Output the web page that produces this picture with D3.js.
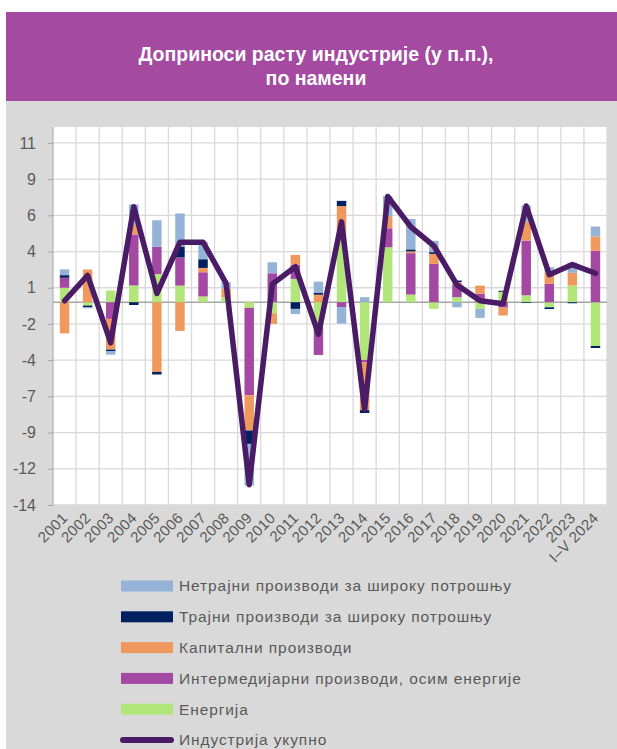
<!DOCTYPE html>
<html>
<head>
<meta charset="utf-8">
<script src="https://cdn.jsdelivr.net/npm/d3@7"></script>
<style>
body { margin: 0; background: #fff; }
svg text { font-family: "Liberation Sans", Arial, sans-serif; }
</style>
</head>
<body>
<div id="chart"></div>
<script>
// godine (kategorije)
var years = ["2001","2002","2003","2004","2005","2006","2007","2008","2009","2010","2011","2012",
             "2013","2014","2015","2016","2017","2018","2019","2020","2021","2022","2023","I–V 2024"];

// doprinosi po nameni, u p.p.
var energija       = [1.0, -0.23, 0.81, 1.16, 1.95, 1.15, 0.4, 0.35, -0.39, -0.76, 1.61, -1.68, 4.2, -3.98, 3.8, 0.53, -0.46, 0.35, -0.46, 0.72, 0.48, -0.35, 1.15, -3.02];
var intermedijarni = [0.69, 0, -1.15, 3.52, 1.87, 1.95, 1.67, 0, -6.03, 2.0, 0.99, -1.96, -0.33, -0.17, 1.31, 2.86, 2.65, 0.85, 0.58, -0.37, 3.78, 1.27, 0, 3.55];
var kapitalni      = [-2.15, 2.26, -2.12, 0.65, -4.81, -1.98, 0.3, 0.59, -2.44, -0.74, 0.67, 0.52, 2.44, -3.3, 0.83, 0.12, 0.69, 0.2, 0.57, -0.55, 1.3, 0.78, 0.88, 0.99];
var trajni         = [0.18, -0.12, -0.1, -0.19, -0.18, 0.75, 0.6, 0, -0.92, 0, -0.46, 0.14, 0.36, -0.2, 0, 0.14, 0.12, 0.1, 0, 0.07, -0.05, -0.12, -0.07, -0.14];
var netrajni       = [0.4, -0.07, -0.25, 1.42, 1.84, 2.28, 1.2, 0.44, -2.88, 0.76, -0.36, 0.76, -1.15, 0.35, 1.4, 2.1, 0.78, -0.35, -0.62, 0, 1.12, 0.37, 0.7, 0.69];
var ukupno         = [0.1, 1.85, -2.8, 6.6, 0.6, 4.15, 4.15, 1.3, -12.6, 1.25, 2.45, -2.2, 5.55, -7.4, 7.3, 5.2, 3.9, 1.2, 0.1, -0.1, 6.65, 1.9, 2.6, 2.0];

var yTicks = [-14, -11.5, -9, -6.5, -4, -1.5, 1, 3.5, 6, 8.5, 11];

var seriesNames = {
    netrajni: "Нетрајни производи за широку потрошњу",
    trajni: "Трајни производи за широку потрошњу",
    kapitalni: "Капитални производи",
    intermedijarni: "Интермедијарни производи, осим енергије",
    energija: "Енергија",
    ukupno: "Индустрија укупно"
};
var colors = {
    netrajni: "#95B3D7",
    trajni: "#002060",
    kapitalni: "#F0995F",
    intermedijarni: "#A449A3",
    energija: "#B3E67A",
    ukupno: "#4A1C66"
};

var width = 617, height = 749;
var plotL = 53, plotR = 607, plotT = 127, plotB = 505;

var rows = years.map(function(yr, i) {
    return { year: yr, energija: energija[i], intermedijarni: intermedijarni[i],
             kapitalni: kapitalni[i], trajni: trajni[i], netrajni: netrajni[i] };
});

var svg = d3.select("#chart").append("svg")
    .attr("width", width)
    .attr("height", height);

// pozadina i naslov
svg.append("rect").attr("x", 6).attr("y", 100).attr("width", width - 6).attr("height", height - 100)
    .attr("fill", "#D9D9D9");
svg.append("rect").attr("x", 6).attr("y", 12).attr("width", width - 6).attr("height", 89)
    .attr("fill", "#A44AA1");
svg.append("text").attr("x", 316).attr("y", 61).attr("text-anchor", "middle")
    .attr("fill", "#fff").style("font-size", "19.5px").style("font-weight", "bold")
    .text("Доприноси расту индустрије (у п.п.),");
svg.append("text").attr("x", 316).attr("y", 85).attr("text-anchor", "middle")
    .attr("fill", "#fff").style("font-size", "19.5px").style("font-weight", "bold")
    .text("по намени");

svg.append("rect").attr("x", plotL).attr("y", plotT).attr("width", plotR - plotL).attr("height", plotB - plotT)
    .attr("fill", "#fff");

var x = d3.scaleBand().domain(years).range([plotL, plotR]);
var y = d3.scaleLinear().domain([-14, 12.1]).range([plotB, plotT]);

// mreza
svg.append("g").selectAll("line")
    .data(yTicks)
    .enter().append("line")
    .attr("x1", plotL).attr("x2", plotR)
    .attr("y1", function(d) { return y(d); })
    .attr("y2", function(d) { return y(d); })
    .attr("stroke", "#D9D9D9").attr("stroke-width", 1.3);

svg.append("g").selectAll("line")
    .data(years.slice(1).concat(["end"]))
    .enter().append("line")
    .attr("x1", function(d) { return d == "end" ? plotR : x(d); })
    .attr("x2", function(d) { return d == "end" ? plotR : x(d); })
    .attr("y1", plotT).attr("y2", plotB)
    .attr("stroke", "#D9D9D9").attr("stroke-width", 1.3);

svg.append("line")
    .attr("x1", plotL).attr("x2", plotR)
    .attr("y1", y(0)).attr("y2", y(0))
    .attr("stroke", "#A6A6A6").attr("stroke-width", 1.3);

// stubici
var stack = d3.stack()
    .keys(["energija", "intermedijarni", "kapitalni", "trajni", "netrajni"])
    .offset(d3.stackOffsetDiverging);

var barW = x.bandwidth() * 0.41;

svg.append("g").selectAll("g")
    .data(stack(rows))
    .enter().append("g")
    .attr("fill", function(d) { return colors[d.key]; })
    .selectAll("rect")
    .data(function(d) { return d; })
    .enter().append("rect")
    .attr("x", function(d) { return x(d.data.year) + x.bandwidth() / 2 - barW / 2; })
    .attr("width", barW)
    .attr("y", function(d) { return y(d[1]); })
    .attr("height", function(d) { return y(d[0]) - y(d[1]); });

// linija ukupno
var line = d3.line()
    .x(function(d, i) { return x(years[i]) + x.bandwidth() / 2; })
    .y(function(d) { return y(d); });

svg.append("path")
    .datum(ukupno)
    .attr("d", line)
    .attr("fill", "none")
    .attr("stroke", colors.ukupno)
    .attr("stroke-width", 5.5)
    .attr("stroke-linejoin", "round")
    .attr("stroke-linecap", "round");

// y osa
var yAxis = svg.append("g")
    .attr("transform", "translate(" + plotL + ",0)")
    .call(d3.axisLeft(y).tickValues(yTicks).tickSize(5).tickPadding(12)
        .tickFormat(function(d) { return d.toFixed(0); }));
yAxis.select(".domain").attr("stroke", "#A6A6A6").attr("d", "M0," + plotT + "V" + plotB);
yAxis.selectAll(".tick line").attr("stroke", "#A6A6A6");
yAxis.selectAll(".tick text").attr("fill", "#595959").style("font-size", "16px")
    .style("font-family", "'Liberation Sans', Arial, sans-serif");

// x oznake
svg.append("g").selectAll("text")
    .data(years)
    .enter().append("text")
    .attr("transform", function(d) {
        return "translate(" + (x(d) + x.bandwidth() / 2 + 4) + "," + 519 + ") rotate(-45)";
    })
    .attr("text-anchor", "end")
    .attr("fill", "#595959")
    .style("font-size", "15px")
    .style("letter-spacing", "0.3px")
    .text(function(d) { return d; });

// legenda
var legendKeys = ["netrajni", "trajni", "kapitalni", "intermedijarni", "energija", "ukupno"];
var legend = svg.append("g").selectAll("g")
    .data(legendKeys)
    .enter().append("g")
    .attr("transform", function(d, i) { return "translate(121," + (586 + i * 30.8) + ")"; });

legend.filter(function(d) { return d != "ukupno"; })
    .append("rect")
    .attr("x", 0).attr("y", -5.5).attr("width", 52).attr("height", 11)
    .attr("fill", function(d) { return colors[d]; });

legend.filter(function(d) { return d == "ukupno"; })
    .append("line")
    .attr("x1", 2).attr("x2", 50).attr("y1", 0).attr("y2", 0)
    .attr("stroke", colors.ukupno).attr("stroke-width", 6).attr("stroke-linecap", "round");

legend.append("text")
    .attr("x", 58).attr("dy", "0.35em")
    .attr("fill", "#595959")
    .style("font-size", "15.5px")
    .style("letter-spacing", "0.9px")
    .text(function(d) { return seriesNames[d]; });
</script>
</body>
</html>
